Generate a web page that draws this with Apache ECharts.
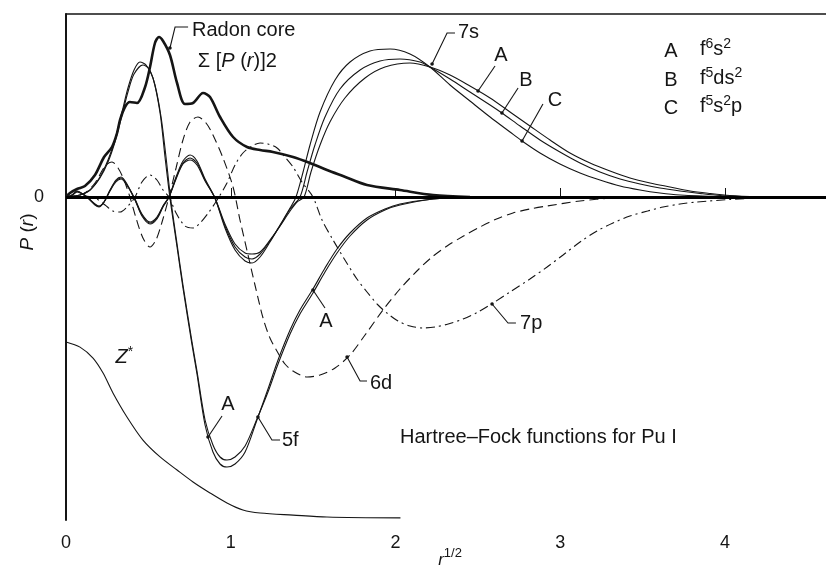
<!DOCTYPE html>
<html><head><meta charset="utf-8">
<script src="https://cdn.jsdelivr.net/npm/echarts@6/dist/echarts.min.js"></script>
<style>html,body{margin:0;padding:0;background:#fff;overflow:hidden}#c{width:826px;height:571px}</style>
</head><body><div id="c"></div>
<script>
const FONT = 'Liberation Sans, Arial, Helvetica, sans-serif';
const xTickValues = [0, 1, 2, 3, 4];

// Radon core  sum [P(r)]^2  (thick)
const radonCore = [[0,0],[0.024,0.04],[0.067,0.08],[0.115,0.11],[0.176,0.22],[0.231,0.40],[0.279,0.50],[0.310,0.64],[0.328,0.77],[0.358,0.90],[0.388,0.95],[0.431,0.94],[0.480,1.10],[0.510,1.30],[0.540,1.54],[0.564,1.60],[0.589,1.56],[0.631,1.42],[0.674,1.14],[0.722,0.93],[0.771,0.94],[0.832,1.04],[0.874,1.00],[0.935,0.80],[1.014,0.60],[1.099,0.50],[1.178,0.47],[1.256,0.45],[1.378,0.40],[1.481,0.34],[1.584,0.27],[1.681,0.21],[1.827,0.12],[2.027,0.07],[2.228,0.02],[2.452,0]];

// 7s for configurations A, B, C
const s7A = [[0,0],[0.036,0.015],[0.067,0.05],[0.103,0.025],[0.134,-0.01],[0.176,-0.07],[0.200,-0.09],[0.231,-0.05],[0.267,0.06],[0.303,0.15],[0.334,0.18],[0.370,0.12],[0.419,-0.02],[0.461,-0.17],[0.510,-0.25],[0.552,-0.20],[0.589,-0.09],[0.625,0],[0.668,0.18],[0.710,0.33],[0.753,0.37],[0.795,0.32],[0.844,0.16],[0.904,-0.01],[0.965,-0.27],[1.026,-0.47],[1.087,-0.56],[1.129,-0.57],[1.178,-0.55],[1.238,-0.43],[1.299,-0.29],[1.360,-0.14],[1.402,-0.05],[1.445,0],[1.487,0.25],[1.542,0.52],[1.602,0.75],[1.693,0.99],[1.815,1.19],[1.936,1.30],[2.088,1.34],[2.209,1.30],[2.331,1.22],[2.452,1.11],[2.574,0.99],[2.695,0.85],[2.816,0.71],[2.938,0.57],[3.059,0.44],[3.181,0.34],[3.302,0.26],[3.423,0.19],[3.545,0.14],[3.666,0.10],[3.788,0.06],[3.909,0.035],[4.030,0.015],[4.212,0]];
const s7B = [[0,0],[0.036,0.02],[0.067,0.055],[0.103,0.03],[0.134,-0.01],[0.176,-0.075],[0.200,-0.095],[0.231,-0.05],[0.267,0.065],[0.303,0.16],[0.334,0.19],[0.370,0.12],[0.419,-0.03],[0.461,-0.18],[0.510,-0.26],[0.552,-0.21],[0.589,-0.09],[0.625,0],[0.668,0.19],[0.710,0.34],[0.753,0.39],[0.795,0.34],[0.844,0.17],[0.904,-0.01],[0.965,-0.29],[1.026,-0.50],[1.087,-0.60],[1.129,-0.62],[1.178,-0.57],[1.238,-0.44],[1.299,-0.29],[1.360,-0.12],[1.420,0],[1.463,0.25],[1.511,0.52],[1.572,0.80],[1.663,1.08],[1.785,1.27],[1.906,1.36],[2.027,1.38],[2.149,1.35],[2.209,1.30],[2.331,1.18],[2.452,1.05],[2.574,0.92],[2.646,0.84],[2.756,0.71],[2.877,0.57],[2.998,0.45],[3.120,0.34],[3.241,0.25],[3.363,0.18],[3.484,0.13],[3.605,0.09],[3.727,0.06],[3.848,0.035],[3.970,0.015],[4.212,0]];
const s7C = [[0,0],[0.036,0.02],[0.067,0.06],[0.103,0.03],[0.134,-0.01],[0.176,-0.08],[0.200,-0.10],[0.231,-0.05],[0.267,0.07],[0.303,0.17],[0.334,0.20],[0.370,0.13],[0.419,-0.03],[0.461,-0.19],[0.510,-0.27],[0.552,-0.22],[0.589,-0.10],[0.625,0],[0.668,0.20],[0.710,0.36],[0.753,0.42],[0.795,0.36],[0.844,0.18],[0.904,-0.01],[0.965,-0.31],[1.026,-0.53],[1.087,-0.64],[1.129,-0.66],[1.178,-0.60],[1.238,-0.45],[1.299,-0.28],[1.360,-0.11],[1.396,0],[1.439,0.25],[1.481,0.52],[1.542,0.85],[1.633,1.17],[1.724,1.35],[1.845,1.46],[1.967,1.48],[2.088,1.43],[2.209,1.30],[2.331,1.12],[2.452,0.96],[2.574,0.80],[2.695,0.65],[2.768,0.56],[2.877,0.44],[2.998,0.33],[3.120,0.24],[3.241,0.17],[3.363,0.11],[3.484,0.07],[3.605,0.04],[3.727,0.02],[3.970,0.005],[4.212,0]];

// 5f (two nearly coincident solutions)
const f5A = [[0,0],[0.085,0.02],[0.146,0.07],[0.206,0.20],[0.255,0.37],[0.297,0.57],[0.340,0.85],[0.376,1.09],[0.413,1.27],[0.449,1.35],[0.486,1.32],[0.528,1.19],[0.571,0.84],[0.601,0.40],[0.631,-0.01],[0.674,-0.50],[0.710,-0.91],[0.765,-1.48],[0.795,-1.77],[0.844,-2.28],[0.892,-2.55],[0.935,-2.67],[0.977,-2.70],[1.026,-2.67],[1.087,-2.55],[1.159,-2.23],[1.226,-1.92],[1.287,-1.63],[1.360,-1.33],[1.420,-1.13],[1.499,-0.92],[1.572,-0.71],[1.645,-0.52],[1.724,-0.36],[1.827,-0.21],[1.936,-0.12],[2.027,-0.07],[2.228,-0.02],[2.452,0]];
const f5B = [[0,0],[0.085,0.02],[0.146,0.07],[0.206,0.19],[0.255,0.35],[0.297,0.55],[0.340,0.82],[0.376,1.05],[0.413,1.23],[0.467,1.32],[0.504,1.28],[0.540,1.12],[0.577,0.80],[0.607,0.40],[0.634,0],[0.674,-0.47],[0.710,-0.88],[0.765,-1.45],[0.795,-1.74],[0.844,-2.23],[0.892,-2.48],[0.935,-2.60],[0.977,-2.63],[1.026,-2.60],[1.087,-2.49],[1.159,-2.22],[1.226,-1.95],[1.287,-1.67],[1.360,-1.37],[1.420,-1.17],[1.499,-0.96],[1.572,-0.75],[1.645,-0.56],[1.724,-0.39],[1.827,-0.23],[1.936,-0.13],[2.027,-0.08],[2.228,-0.02],[2.452,0]];

// 6d (dashed)
const d6 = [[0,0],[0.055,0.01],[0.115,0.04],[0.176,0.14],[0.237,0.31],[0.279,0.35],[0.316,0.29],[0.352,0.17],[0.388,0],[0.425,-0.21],[0.467,-0.41],[0.510,-0.50],[0.546,-0.43],[0.583,-0.25],[0.625,0],[0.668,0.29],[0.710,0.57],[0.753,0.75],[0.801,0.80],[0.850,0.74],[0.892,0.62],[0.953,0.39],[1.014,0.10],[1.056,-0.23],[1.105,-0.58],[1.147,-0.88],[1.196,-1.21],[1.238,-1.41],[1.287,-1.56],[1.329,-1.67],[1.378,-1.74],[1.463,-1.80],[1.542,-1.78],[1.633,-1.71],[1.724,-1.58],[1.815,-1.38],[1.924,-1.13],[2.027,-0.92],[2.130,-0.74],[2.222,-0.60],[2.313,-0.49],[2.413,-0.39],[2.513,-0.30],[2.613,-0.22],[2.713,-0.16],[2.816,-0.12],[2.920,-0.09],[3.120,-0.04],[3.320,-0.01],[3.545,0]];

// 7p (dash-dot)
const p7 = [[0,0],[0.055,-0.01],[0.115,0.01],[0.176,-0.01],[0.237,-0.08],[0.285,-0.14],[0.328,-0.15],[0.370,-0.10],[0.419,0],[0.461,0.15],[0.510,0.22],[0.552,0.17],[0.589,0.07],[0.625,0],[0.668,-0.16],[0.722,-0.29],[0.771,-0.31],[0.819,-0.25],[0.868,-0.15],[0.917,-0.03],[0.977,0.14],[1.026,0.32],[1.074,0.44],[1.129,0.51],[1.178,0.54],[1.226,0.53],[1.281,0.49],[1.329,0.40],[1.378,0.30],[1.432,0.15],[1.499,0],[1.554,-0.23],[1.621,-0.43],[1.693,-0.63],[1.766,-0.82],[1.827,-0.95],[1.894,-1.08],[1.948,-1.16],[2.015,-1.24],[2.088,-1.29],[2.167,-1.31],[2.240,-1.30],[2.320,-1.27],[2.410,-1.22],[2.501,-1.15],[2.592,-1.06],[2.695,-0.95],[2.816,-0.82],[2.920,-0.70],[3.017,-0.58],[3.120,-0.45],[3.223,-0.34],[3.320,-0.26],[3.423,-0.19],[3.530,-0.14],[3.624,-0.10],[3.727,-0.07],[3.830,-0.05],[4.030,-0.025],[4.212,-0.01],[4.455,0]];

// Effective nuclear charge Z* (own scale, 0 at the bottom axis)
const zStar = [[0,94],[0.085,91.3],[0.164,85.5],[0.225,77.6],[0.285,67.1],[0.370,54.4],[0.467,42.2],[0.571,33.3],[0.674,26.4],[0.771,20.1],[0.874,14.3],[0.977,9.0],[1.074,5.3],[1.178,3.7],[1.378,2.6],[1.584,1.6],[2.03,1.1]];

// annotations (data coordinates)
const textNotes = [
  {t:'Radon core', at:[0.765,1.67], align:'left'},
  {t:'{n|Σ [}{i|P}{n| (}{i|r}{n|)]2}', at:[0.80,1.36], align:'left'},
  {t:'7s', at:[2.379,1.65], align:'left'},
  {t:'A', at:[2.640,1.42]},
  {t:'B', at:[2.792,1.17]},
  {t:'C', at:[2.968,0.97]},
  {t:'A', at:[3.672,1.46]},
  {t:'B', at:[3.672,1.17]},
  {t:'C', at:[3.672,0.89]},
  {t:'f{s|6}s{s|2}', at:[3.848,1.48], align:'left'},
  {t:'f{s|5}ds{s|2}', at:[3.848,1.19], align:'left'},
  {t:'f{s|5}s{s|2}p', at:[3.848,0.91], align:'left'},
  {t:'{i|Z}{s|*}', at:[0.300,-1.60], align:'left'},
  {t:'A', at:[0.983,-2.07]},
  {t:'5f', at:[1.311,-2.43], align:'left'},
  {t:'6d', at:[1.845,-1.86], align:'left'},
  {t:'7p', at:[2.756,-1.26], align:'left'},
  {t:'A', at:[1.578,-1.24]},
  {t:'Hartree–Fock functions for Pu I', at:[2.027,-2.40], align:'left'}
];
const leaderLines = [
  [[0.741,1.70],[0.662,1.70],[0.631,1.49]],
  [[2.361,1.64],[2.313,1.64],[2.222,1.33]],
  [[2.604,1.31],[2.501,1.06]],
  [[2.744,1.09],[2.646,0.84]],
  [[2.895,0.93],[2.768,0.56]],
  [[0.947,-2.19],[0.862,-2.40]],
  [[1.299,-2.43],[1.250,-2.43],[1.165,-2.20]],
  [[1.827,-1.84],[1.785,-1.84],[1.706,-1.60]],
  [[2.731,-1.26],[2.683,-1.26],[2.586,-1.07]],
  [[1.572,-1.11],[1.499,-0.93]]
];

const INK = '#151515';
function line(name, data, opts) {
  return Object.assign({
    name, type:'line', data, symbol:'none', smooth:0.3, silent:true,
    lineStyle:{color:INK, width:1.1}, z:3
  }, opts || {});
}

const option = {
  animation:false,
  backgroundColor:'#fff',
  grid:{left:66, right:0, top:14, bottom:51, containLabel:false, outerBoundsMode:'none'},
  xAxis:[{
    type:'value', min:0, max:4.613, interval:1,
    axisLine:{show:true, lineStyle:{color:INK, width:2}},
    axisTick:{show:true, inside:true, length:9, lineStyle:{color:INK, width:1}},
    axisLabel:{show:true, margin:14, fontSize:18, fontFamily:FONT, color:INK,
      formatter: v => xTickValues.indexOf(v) >= 0 ? String(v) : ''},
    splitLine:{show:false}
  },{
    type:'value', position:'top', min:0, max:4.613,
    axisLine:{show:true, onZero:false, lineStyle:{color:INK, width:1.6}},
    axisTick:{show:false}, axisLabel:{show:false}, splitLine:{show:false}
  }],
  yAxis:[{
    type:'value', min:-3.23, max:1.83,
    axisLine:{show:true, onZero:false, lineStyle:{color:INK, width:2}},
    axisTick:{show:false},
    axisLabel:{show:true, margin:22, fontSize:18, fontFamily:FONT, color:INK,
      showMinLabel:false, showMaxLabel:false,
      formatter: v => (Math.abs(v) < 1e-9 ? '0' : '')},
    splitLine:{show:false}
  },{
    type:'value', min:0, max:267.2, show:false, splitLine:{show:false}
  }],
  series:[
    line('Radon core', radonCore, {lineStyle:{color:INK, width:2.6}, z:4,
      markLine:{silent:true, symbol:'none', label:{show:false},
        lineStyle:{color:'#000', width:3, type:'solid'}, data:[{yAxis:0}]}}),
    line('7s A', s7A),
    line('7s B', s7B),
    line('7s C', s7C),
    line('5f A', f5A),
    line('5f B', f5B),
    line('6d', d6, {lineStyle:{color:INK, width:1.1, type:[9,5]}}),
    line('7p', p7, {lineStyle:{color:INK, width:1.1, type:[9,4,2,4]}}),
    line('Z*', zStar, {yAxisIndex:1})
  ]
};

const chart = echarts.init(document.getElementById('c'), null, {renderer:'canvas', width:826, height:571});
chart.setOption(option);

const toPx = p => chart.convertToPixel({gridIndex:0}, p);
const rich = {
  n:{fontSize:20, fontFamily:FONT, fill:INK, color:INK},
  i:{fontSize:20, fontFamily:FONT, fontStyle:'italic', fill:INK, color:INK},
  s:{fontSize:14, fontFamily:FONT, fill:INK, color:INK, verticalAlign:'top', lineHeight:24}
};
const graphics = [];
textNotes.forEach(n => {
  const p = toPx(n.at);
  graphics.push({type:'text', x:p[0], y:p[1], silent:true, z:10,
    style:{text:n.t, fill:INK, font:'20px ' + FONT, align:n.align || 'center',
      verticalAlign:'middle', rich}});
});
leaderLines.forEach(l => {
  const pts = l.map(toPx);
  graphics.push({type:'polyline', silent:true, z:10, shape:{points:pts},
    style:{stroke:INK, lineWidth:1.1, fill:null}});
  const e = pts[pts.length-1];
  graphics.push({type:'circle', silent:true, z:10, shape:{cx:e[0], cy:e[1], r:1.8}, style:{fill:INK}});
});
// axis titles
graphics.push({type:'text', x:28, y:232, rotation:Math.PI/2, silent:true, z:10,
  style:{text:'{i|P} ({i|r})', fill:INK, font:'19px ' + FONT, align:'center', verticalAlign:'middle',
    rich:{i:{fontSize:19, fontFamily:FONT, fontStyle:'italic', fill:INK}}}});
graphics.push({type:'text', x:450, y:558, silent:true, z:10,
  style:{text:'{i|r}{s|1/2}', fill:INK, font:'17px ' + FONT, align:'center', verticalAlign:'middle',
    rich:{
      i:{fontSize:17, fontFamily:FONT, fontStyle:'italic', fill:INK, verticalAlign:'bottom', lineHeight:22},
      s:{fontSize:13, fontFamily:FONT, fill:INK, verticalAlign:'top', lineHeight:22}
    }}});
chart.setOption({graphic:graphics});
</script>
</body></html>
